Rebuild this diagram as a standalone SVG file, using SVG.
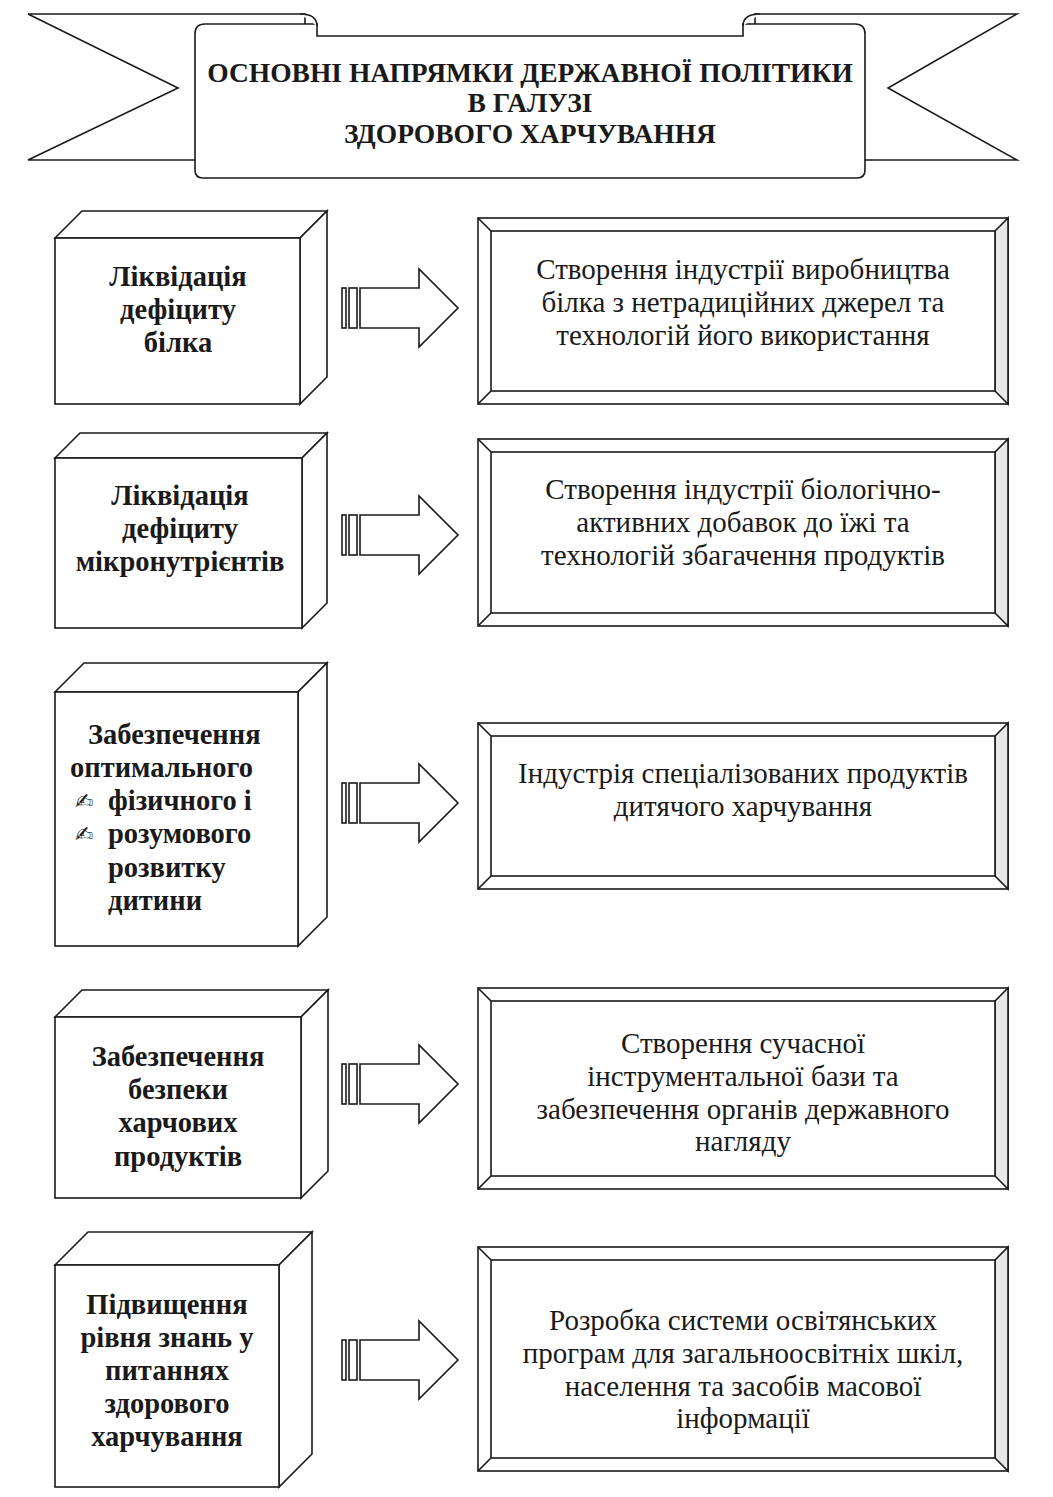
<svg xmlns="http://www.w3.org/2000/svg" width="1053" height="1497" viewBox="0 0 1053 1497">
<style>
.ln{fill:#fff;stroke:#1a1a1a;stroke-width:1.6;stroke-linejoin:miter}
.sh{fill:#e8e8e8;stroke:#1a1a1a;stroke-width:1.6}
.bx{font-family:"Liberation Serif","Times New Roman",serif;font-weight:bold;font-size:28.5px;fill:#1a1a1a;text-anchor:middle}
.bl{font-family:"Liberation Serif","Times New Roman",serif;font-weight:bold;font-size:28.5px;fill:#1a1a1a}
.fr{font-family:"Liberation Serif","Times New Roman",serif;font-size:29px;fill:#1a1a1a;text-anchor:middle}
.tt{font-family:"Liberation Serif","Times New Roman",serif;font-weight:bold;font-size:27.5px;fill:#1a1a1a;text-anchor:middle}
.ic{font-family:"DejaVu Sans",sans-serif;font-size:22px;fill:#1a1a1a}
</style>
<defs>
<g id="arrow">
<rect x="342" y="-20" width="4" height="40" class="ln"/>
<rect x="349" y="-20" width="8" height="40" class="ln"/>
<path d="M360,-20 L419,-20 L419,-39 L458,0 L419,39 L419,20 L360,20 Z" class="ln"/>
</g>
</defs>
<rect width="1053" height="1497" fill="#fff"/>

<g id="title">
<path class="ln" d="M28,14 L305,14 L305,160 L28,160 L178,88 Z"/>
<path class="ln" d="M1017,14 L755,14 L755,160 L1017,160 L888,88 Z"/>
<path class="ln" d="M205,24 L317,24 L317,36 L743,36 L743,24 L855,24 Q865,24 865,34 L865,170 Q865,178 857,178 L203,178 Q195,178 195,170 L195,34 Q195,24 205,24 Z"/>
<path class="ln" fill="none" d="M300,14 Q317,14 317,26"/>
<path class="ln" fill="none" d="M760,14 Q743,14 743,26"/>
<text class="tt" x="530" y="82">ОСНОВНІ НАПРЯМКИ ДЕРЖАВНОЇ ПОЛІТИКИ</text>
<text class="tt" x="530" y="112">В ГАЛУЗІ</text>
<text class="tt" x="530" y="143">ЗДОРОВОГО ХАРЧУВАННЯ</text>
</g>

<g id="box1">
<polygon class="ln" points="55,238 82,211 327,211 300,238"/>
<polygon class="ln" points="300,238 327,211 327,377 300,404"/>
<rect class="ln" x="55" y="238" width="245" height="166"/>
<text class="bx" x="178" y="286">Ліквідація</text>
<text class="bx" x="178" y="319">дефіциту</text>
<text class="bx" x="178" y="352">білка</text>
</g>

<g id="box2">
<polygon class="ln" points="55,458 80,433 327,433 302,458"/>
<polygon class="ln" points="302,458 327,433 327,603 302,628"/>
<rect class="ln" x="55" y="458" width="247" height="170"/>
<text class="bx" x="180" y="505">Ліквідація</text>
<text class="bx" x="180" y="538">дефіциту</text>
<text class="bx" x="180" y="571">мікронутрієнтів</text>
</g>

<g id="box3">
<polygon class="ln" points="55,692 84,663 327,663 298,692"/>
<polygon class="ln" points="298,692 327,663 327,917 298,946"/>
<rect class="ln" x="55" y="692" width="243" height="254"/>
<text class="bl" x="88" y="744">Забезпечення</text>
<text class="bl" x="70" y="777">оптимального</text>
<text class="ic" x="75" y="809">✍</text>
<text class="bl" x="108" y="810">фізичного і</text>
<text class="ic" x="75" y="842">✍</text>
<text class="bl" x="108" y="843">розумового</text>
<text class="bl" x="108" y="877">розвитку</text>
<text class="bl" x="108" y="910">дитини</text>
</g>

<g id="box4">
<polygon class="ln" points="55,1017 82,990 328,990 301,1017"/>
<polygon class="ln" points="301,1017 328,990 328,1171 301,1198"/>
<rect class="ln" x="55" y="1017" width="246" height="181"/>
<text class="bx" x="178" y="1066">Забезпечення</text>
<text class="bx" x="178" y="1099">безпеки</text>
<text class="bx" x="178" y="1132">харчових</text>
<text class="bx" x="178" y="1166">продуктів</text>
</g>

<g id="box5">
<polygon class="ln" points="55,1265 88,1232 312,1232 279,1265"/>
<polygon class="ln" points="279,1265 312,1232 312,1454 279,1487"/>
<rect class="ln" x="55" y="1265" width="224" height="222"/>
<text class="bx" x="167" y="1314">Підвищення</text>
<text class="bx" x="167" y="1347">рівня знань у</text>
<text class="bx" x="167" y="1380">питаннях</text>
<text class="bx" x="167" y="1413">здорового</text>
<text class="bx" x="167" y="1446">харчування</text>
</g>

<g id="connectors">
<use href="#arrow" y="308"/>
<use href="#arrow" y="535"/>
<use href="#arrow" y="803"/>
<use href="#arrow" y="1084"/>
<use href="#arrow" y="1360"/>
</g>

<g id="frame1">
<rect class="ln" x="478" y="218" width="530" height="186"/>
<polygon class="sh" points="1008,218 1008,404 995,391 995,231"/>
<rect class="ln" x="491" y="231" width="504" height="160"/>
<path class="ln" d="M478,218 L491,231 M478,404 L491,391"/>
<text class="fr" x="743" y="279">Створення індустрії виробництва</text>
<text class="fr" x="743" y="312">білка з нетрадиційних джерел та</text>
<text class="fr" x="743" y="345">технологій його використання</text>
</g>

<g id="frame2">
<rect class="ln" x="478" y="439" width="530" height="187"/>
<polygon class="sh" points="1008,439 1008,626 995,613 995,452"/>
<rect class="ln" x="491" y="452" width="504" height="161"/>
<path class="ln" d="M478,439 L491,452 M478,626 L491,613"/>
<text class="fr" x="743" y="499">Створення індустрії біологічно-</text>
<text class="fr" x="743" y="532">активних добавок до їжі та</text>
<text class="fr" x="743" y="565">технологій збагачення продуктів</text>
</g>

<g id="frame3">
<rect class="ln" x="478" y="723" width="530" height="166"/>
<polygon class="sh" points="1008,723 1008,889 995,876 995,736"/>
<rect class="ln" x="491" y="736" width="504" height="140"/>
<path class="ln" d="M478,723 L491,736 M478,889 L491,876"/>
<text class="fr" x="743" y="783">Індустрія спеціалізованих продуктів</text>
<text class="fr" x="743" y="816">дитячого харчування</text>
</g>

<g id="frame4">
<rect class="ln" x="478" y="988" width="530" height="201"/>
<polygon class="sh" points="1008,988 1008,1189 995,1176 995,1001"/>
<rect class="ln" x="491" y="1001" width="504" height="175"/>
<path class="ln" d="M478,988 L491,1001 M478,1189 L491,1176"/>
<text class="fr" x="743" y="1053">Створення сучасної</text>
<text class="fr" x="743" y="1086">інструментальної бази та</text>
<text class="fr" x="743" y="1119">забезпечення органів державного</text>
<text class="fr" x="743" y="1151">нагляду</text>
</g>

<g id="frame5">
<rect class="ln" x="478" y="1247" width="530" height="224"/>
<polygon class="sh" points="1008,1247 1008,1471 995,1458 995,1260"/>
<rect class="ln" x="491" y="1260" width="504" height="198"/>
<path class="ln" d="M478,1247 L491,1260 M478,1471 L491,1458"/>
<text class="fr" x="743" y="1330">Розробка системи освітянських</text>
<text class="fr" x="743" y="1363">програм для загальноосвітніх шкіл,</text>
<text class="fr" x="743" y="1396">населення та засобів масової</text>
<text class="fr" x="743" y="1428">інформації</text>
</g>
</svg>
